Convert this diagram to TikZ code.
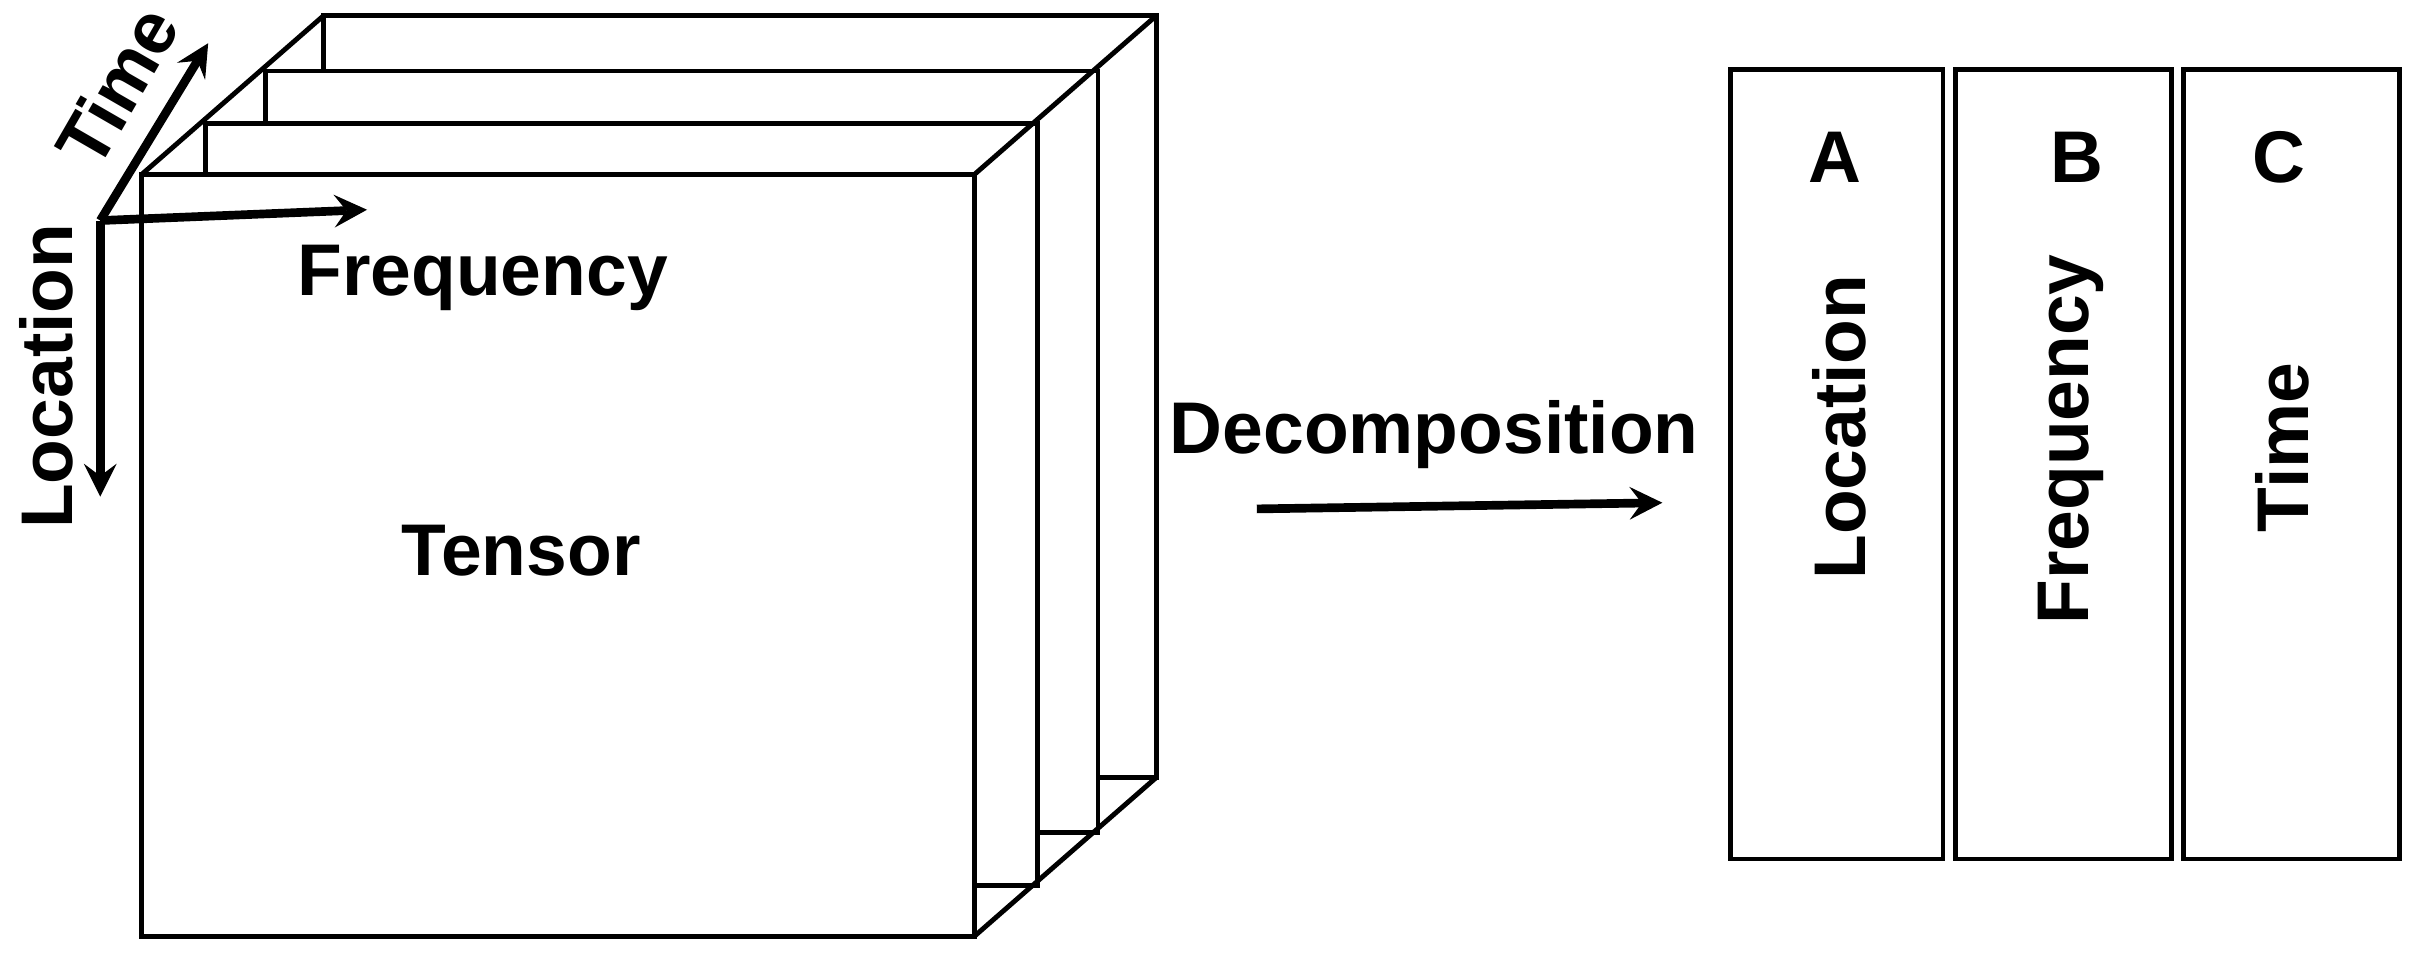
\documentclass[tikz,border=0pt]{standalone}
\usepackage{fontspec}
\setmainfont{Liberation Sans}
\begin{document}
\begin{tikzpicture}[x=0.01cm,y=-0.01cm,
  lay/.style={draw,fill=white,line width=0.9pt},
  lbl/.style={font=\fontsize{13.5}{15}\selectfont\bfseries,inner sep=0pt},
  ax/.style={line width=1.6pt,-stealth}]
\useasboundingbox (0,0) rectangle (1568,620);
\foreach \dx/\dy in {118/-103,80/-67,41/-33}{
  \draw[lay] (92+\dx,113+\dy) rectangle (632+\dx,607+\dy);
}
\draw[line width=0.9pt] (92,113)--(210,10) (632,113)--(750,10) (632,607)--(750,504);
\draw[lay] (92,113) rectangle (632,607);
\coordinate (o) at (65,143);
\coordinate (tt) at (135,28);
\coordinate (ft) at (238,136);
\coordinate (lt) at (65,322);
\draw[ax] (o)--(tt);
\draw[ax] (o)--(ft);
\draw[ax] (o)--(lt);
\node[lbl,rotate=60] (time) at (76,56) {Time};
\node[lbl,rotate=90] (loc) at (30,244) {Location};
\node[lbl] (freq) at (313,180) {Frequency};
\node[lbl] (tensor) at (338,357) {Tensor};
\node[lbl] (dec) at (930,282) {Decomposition};
\coordinate (a1) at (815,330);
\coordinate (a2) at (1078,326);
\draw[ax] (a1)--(a2);
\draw[lay] (1122,45) rectangle (1260,557);
\draw[lay] (1268,45) rectangle (1408,557);
\draw[lay] (1416,45) rectangle (1556,557);
\node[lbl] (A) at (1190,102) {A};
\node[lbl] (B) at (1347,102) {B};
\node[lbl] (C) at (1478,102) {C};
\node[lbl,rotate=90] (l2) at (1193,277) {Location};
\node[lbl,rotate=90] (f2) at (1343,285) {Frequency};
\node[lbl,rotate=90] (t2) at (1480,290) {Time};
\end{tikzpicture}
\end{document}
